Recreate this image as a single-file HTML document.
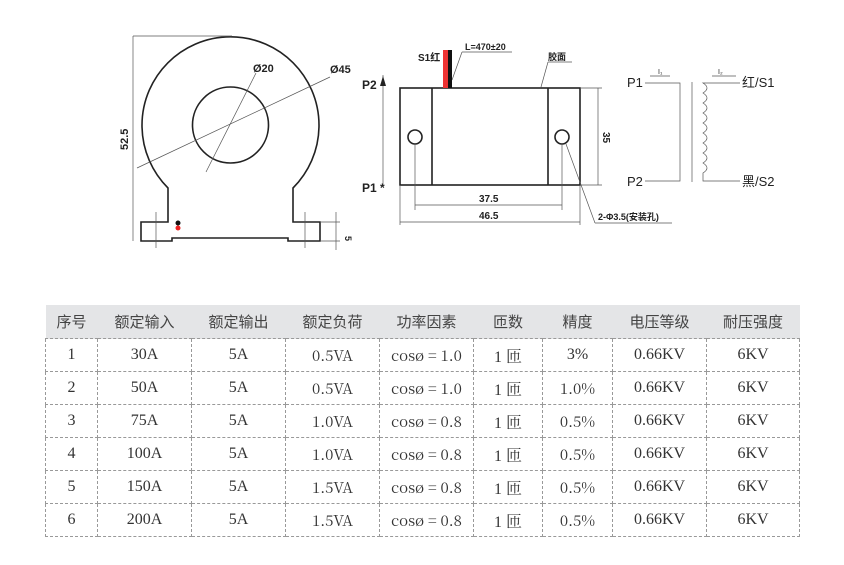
<!DOCTYPE html>
<html><head><meta charset="utf-8"><style>
body{margin:0;background:#fff;width:844px;height:565px;overflow:hidden;position:relative;font-family:"Liberation Serif","Noto Serif CJK SC",serif;}
svg{position:absolute;left:0;top:0}
table{position:absolute;left:45px;top:305px;border-collapse:collapse;font-size:16px;color:#333;}
td,th{border:1px dashed #999;text-align:center;padding:0;height:32px;}
td.w{font-family:"Noto Serif CJK SC",serif;font-size:15px;}
th{background:#e4e5e7;font-weight:normal;border:none;border-bottom:1px dashed #999;font-family:"Liberation Sans","Noto Sans CJK SC",sans-serif;font-size:15px;color:#444;}
tr:first-child th{height:33px}
</style></head><body>
<svg width="844" height="300" viewBox="0 0 844 300" font-family="Liberation Sans, Noto Sans CJK SC, sans-serif" font-size="10" fill="#222">
<g stroke="#222" fill="none" stroke-width="1.6">
<path d="M168 188 A88.5 88.5 0 1 1 293 188 L293 222 L320 222 L320 241 L288 241 L288 238 L172 238 L172 241 L141 241 L141 222 L168 222 Z"/>
<circle cx="230.5" cy="125" r="38"/>
<rect x="400" y="88" width="180" height="97"/>
<line x1="432" y1="88" x2="432" y2="185"/><line x1="548" y1="88" x2="548" y2="185"/>
<circle cx="415" cy="137" r="7"/><circle cx="562" cy="137" r="7"/>
</g>
<g stroke="#555" fill="none" stroke-width="0.7">
<line x1="133" y1="36" x2="133" y2="241"/><line x1="133" y1="36" x2="232" y2="36"/>
<line x1="137" y1="168" x2="330" y2="77"/><line x1="206" y1="172" x2="256" y2="73"/>
<line x1="156" y1="212" x2="156" y2="248"/><line x1="305" y1="212" x2="305" y2="248"/>
<line x1="320" y1="222" x2="340" y2="222"/><line x1="320" y1="241" x2="340" y2="241"/><line x1="336" y1="212" x2="336" y2="250"/>
<line x1="383" y1="75" x2="383" y2="185"/>
<line x1="580" y1="88" x2="602" y2="88"/><line x1="580" y1="185" x2="602" y2="185"/><line x1="598" y1="88" x2="598" y2="185"/>
<line x1="400" y1="185" x2="400" y2="225"/><line x1="580" y1="185" x2="580" y2="225"/>
<line x1="415" y1="144" x2="415" y2="210"/><line x1="562" y1="144" x2="562" y2="210"/>
<line x1="415" y1="205" x2="562" y2="205"/><line x1="400" y1="222" x2="580" y2="222"/>
<line x1="566" y1="144" x2="595" y2="223"/><line x1="595" y1="223" x2="672" y2="223"/>
<line x1="452" y1="80" x2="462" y2="52"/><line x1="462" y1="52" x2="512" y2="52"/>
<line x1="541" y1="87" x2="548" y2="62"/><line x1="548" y1="62" x2="572" y2="62"/>
<path d="M645 83 H680 V181 H645"/><line x1="692" y1="82" x2="692" y2="182"/>
<path d="M740 83 H703 q8 5 0 10 q8 5 0 10 q8 5 0 10 q8 5 0 10 q8 5 0 10 q8 5 0 10 q8 5 0 10 q8 5 0 10 q8 5 0 10 V181 H740"/>
<line x1="650" y1="76" x2="670" y2="76"/><line x1="712" y1="76" x2="736" y2="76"/>
</g>
<rect x="443" y="50" width="5" height="38" fill="#e33"/><rect x="448" y="50" width="4" height="38" fill="#111"/>
<circle cx="178" cy="223" r="2.5" fill="#111"/><circle cx="178" cy="228" r="2.5" fill="#e22"/>
<polygon points="383,76 380,86 386,86" fill="#222"/>
<g font-weight="bold">
<text x="253" y="72" font-size="11">Ø20</text><text x="330" y="73" font-size="11">Ø45</text>
<text transform="translate(128,150) rotate(-90)" font-size="11">52.5</text>
<text transform="translate(345,236) rotate(90)" font-size="9">5</text>
<text x="418" y="61" font-size="10">S1红</text><text x="465" y="50" font-size="9">L=470±20</text>
<text x="548" y="60" font-size="9">胶面</text>
<text x="362" y="89" font-size="12">P2</text><text x="362" y="192" font-size="12">P1 *</text>
<text transform="translate(603,132) rotate(90)" font-size="10">35</text>
<text x="479" y="202" font-size="10">37.5</text><text x="479" y="219" font-size="10">46.5</text>
<text x="598" y="220" font-size="9">2-Φ3.5(安装孔)</text>
</g>
<text x="627" y="87" font-size="13">P1</text><text x="627" y="186" font-size="13">P2</text>
<text x="658" y="74" font-size="7">I₁</text><text x="718" y="74" font-size="7">I₂</text>
<text x="742" y="87" font-size="13">红/S1</text><text x="742" y="186" font-size="13">黑/S2</text>
</svg>
<table>
<tr><th style="width:52px">序号</th><th style="width:94px">额定输入</th><th style="width:94px">额定输出</th><th style="width:94px">额定负荷</th><th style="width:94px">功率因素</th><th style="width:69px">匝数</th><th style="width:70px">精度</th><th style="width:94px">电压等级</th><th style="width:93px">耐压强度</th></tr>
<tr><td>1</td><td>30A</td><td>5A</td><td class="w">0.5VA</td><td class="w">cosø = 1.0</td><td>1 匝</td><td>3%</td><td>0.66KV</td><td>6KV</td></tr>
<tr><td>2</td><td>50A</td><td>5A</td><td class="w">0.5VA</td><td class="w">cosø = 1.0</td><td>1 匝</td><td class="w">1.0%</td><td>0.66KV</td><td>6KV</td></tr>
<tr><td>3</td><td>75A</td><td>5A</td><td class="w">1.0VA</td><td class="w">cosø = 0.8</td><td>1 匝</td><td class="w">0.5%</td><td>0.66KV</td><td>6KV</td></tr>
<tr><td>4</td><td>100A</td><td>5A</td><td class="w">1.0VA</td><td class="w">cosø = 0.8</td><td>1 匝</td><td class="w">0.5%</td><td>0.66KV</td><td>6KV</td></tr>
<tr><td>5</td><td>150A</td><td>5A</td><td class="w">1.5VA</td><td class="w">cosø = 0.8</td><td>1 匝</td><td class="w">0.5%</td><td>0.66KV</td><td>6KV</td></tr>
<tr><td>6</td><td>200A</td><td>5A</td><td class="w">1.5VA</td><td class="w">cosø = 0.8</td><td>1 匝</td><td class="w">0.5%</td><td>0.66KV</td><td>6KV</td></tr>
</table>
</body></html>
